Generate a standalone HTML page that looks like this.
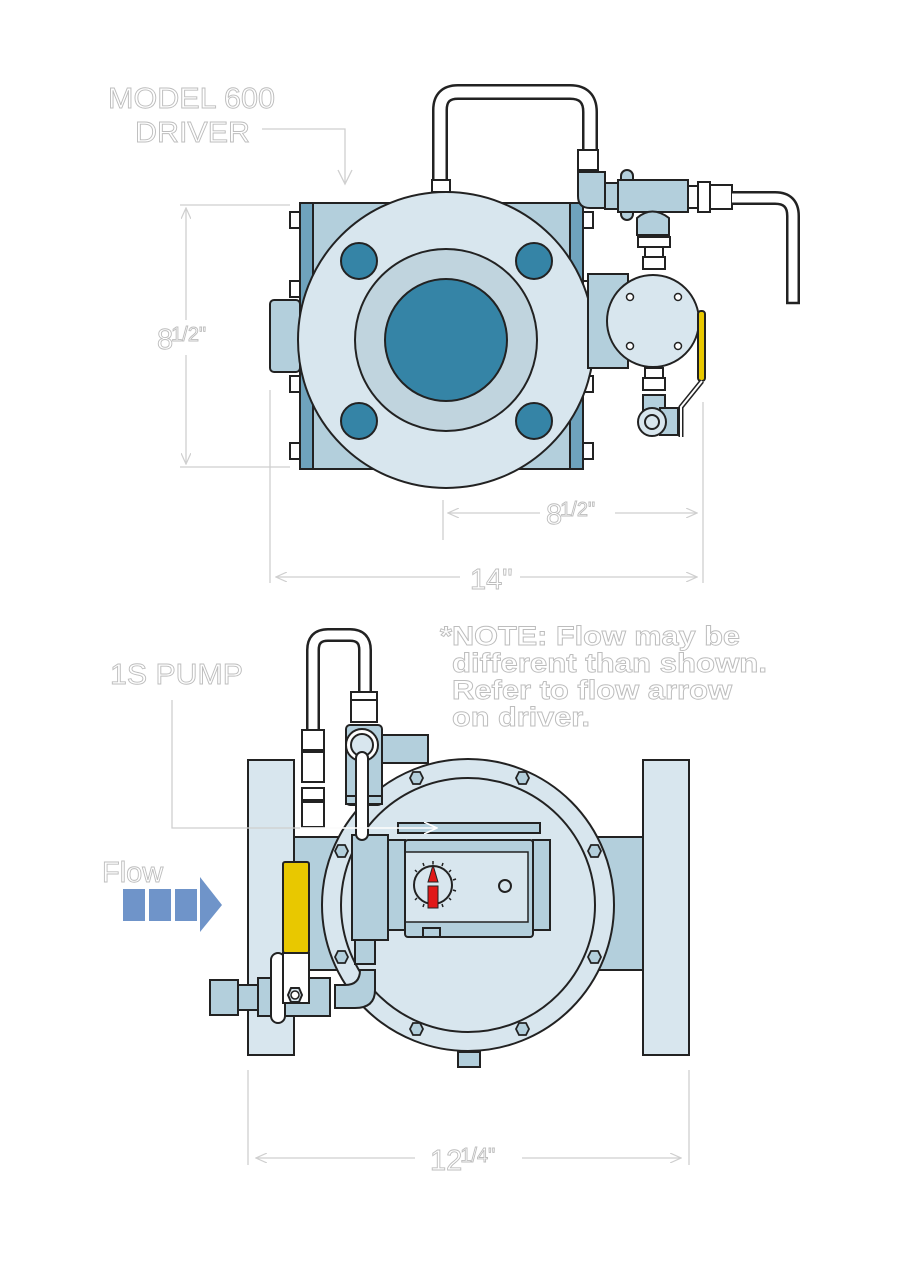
<!DOCTYPE html>
<html><head><meta charset="utf-8"><style>
html,body{margin:0;padding:0;background:#fff;}
svg{display:block}
.t{font-family:"Liberation Sans",sans-serif;fill:#fff;stroke:#bdbdbd;stroke-width:0.9;}
.d{stroke:#cfcfcf;stroke-width:1.3;fill:none}
.k{stroke:#222;stroke-width:2;}
</style></head><body>
<svg width="900" height="1264" viewBox="0 0 900 1264" xmlns="http://www.w3.org/2000/svg">
<defs>
<marker id="a" markerWidth="12" markerHeight="10" refX="11" refY="5" orient="auto" markerUnits="userSpaceOnUse"><path d="M0,0 L11,5 L0,10" fill="none" stroke="#cfcfcf" stroke-width="1.2"/></marker>
<marker id="w" markerWidth="14" markerHeight="12" refX="13" refY="6" orient="auto" markerUnits="userSpaceOnUse"><path d="M0,0 L13,6 L0,12" fill="none" stroke="#fff" stroke-width="1.6"/></marker>
</defs>

<!-- ===== TOP VIEW ===== -->
<g class="k">
<path d="M440,185 L440,110 Q440,92 458,92 L570,92 Q590,92 590,112 L590,152" fill="none" stroke="#222" stroke-width="16"/>
<path d="M440,185 L440,110 Q440,92 458,92 L570,92 Q590,92 590,112 L590,152" fill="none" stroke="#fff" stroke-width="11"/>
<rect x="432" y="180" width="18" height="12" fill="#fff"/>
<rect x="578" y="150" width="20" height="20" fill="#fff"/>
<rect x="300" y="203" width="283" height="266" fill="#b3cfdc"/>
<rect x="300" y="203" width="13" height="266" fill="#6fa3bd"/>
<rect x="570" y="203" width="13" height="266" fill="#6fa3bd"/>
<rect x="270" y="300" width="30" height="72" rx="4" fill="#b3cfdc"/>
<g fill="#fff">
<rect x="290" y="212" width="10" height="16"/><rect x="290" y="281" width="10" height="16"/><rect x="290" y="376" width="10" height="16"/><rect x="290" y="443" width="10" height="16"/>
<rect x="583" y="212" width="10" height="16"/><rect x="583" y="281" width="10" height="16"/><rect x="583" y="376" width="10" height="16"/><rect x="583" y="443" width="10" height="16"/>
</g>
<circle cx="446" cy="340" r="148" fill="#d8e6ee"/>
<circle cx="446" cy="340" r="91" fill="#c0d4de"/>
<circle cx="446" cy="340" r="61" fill="#3584a6"/>
<circle cx="359" cy="261" r="18" fill="#3584a6"/>
<circle cx="534" cy="261" r="18" fill="#3584a6"/>
<circle cx="359" cy="421" r="18" fill="#3584a6"/>
<circle cx="534" cy="421" r="18" fill="#3584a6"/>
<path d="M578,172 L605,172 L605,208 L590,208 Q578,208 578,196 Z" fill="#b3cfdc"/>
<rect x="605" y="183" width="13" height="26" fill="#b3cfdc"/>
<rect x="621" y="170" width="12" height="50" rx="6" fill="#b3cfdc"/>
<rect x="618" y="180" width="70" height="32" fill="#b3cfdc"/>
<rect x="688" y="186" width="10" height="22" fill="#fff"/>
<rect x="698" y="182" width="12" height="30" fill="#fff"/>
<rect x="710" y="185" width="22" height="24" fill="#fff"/>
<path d="M732,198 L775,198 Q793,198 793,216 L793,303" fill="none" stroke="#222" stroke-width="14"/>
<path d="M732,198 L775,198 Q793,198 793,216 L793,302" fill="none" stroke="#fff" stroke-width="9"/>
<line x1="786" y1="303" x2="800" y2="303" stroke-width="2.5"/>
<path d="M637,235 L637,218 Q652,205 669,218 L669,235 Z" fill="#b3cfdc"/>
<rect x="638" y="237" width="32" height="10" fill="#fff"/>
<rect x="645" y="247" width="18" height="10" fill="#fff"/>
<rect x="643" y="257" width="22" height="12" fill="#fff"/>
<rect x="588" y="274" width="40" height="94" fill="#b3cfdc"/>
<circle cx="653" cy="321" r="46" fill="#d8e6ee"/>
<g fill="#fff" stroke-width="1.5"><circle cx="630" cy="297" r="3.5"/><circle cx="678" cy="297" r="3.5"/><circle cx="630" cy="346" r="3.5"/><circle cx="678" cy="346" r="3.5"/></g>
<rect x="698" y="311" width="7" height="70" rx="3" fill="#e8c800"/>
<rect x="645" y="368" width="18" height="10" fill="#fff"/>
<rect x="643" y="378" width="22" height="12" fill="#fff"/>
<rect x="643" y="395" width="22" height="15" fill="#b3cfdc"/>
<rect x="660" y="408" width="18" height="27" fill="#b3cfdc"/>
<circle cx="652" cy="422" r="14" fill="#d8e6ee"/>
<circle cx="652" cy="422" r="7" fill="#d8e6ee"/>
<path d="M702,381 L681,407 L681,437" fill="none" stroke="#222" stroke-width="5"/>
<path d="M702,381 L681,407 L681,437" fill="none" stroke="#fff" stroke-width="2"/>
</g>

<g class="d">
<line x1="180" y1="205" x2="290" y2="205"/><line x1="180" y1="467" x2="290" y2="467"/>
<line x1="186" y1="320" x2="186" y2="208" marker-end="url(#a)"/>
<line x1="186" y1="355" x2="186" y2="464" marker-end="url(#a)"/>
<line x1="270" y1="390" x2="270" y2="583"/>
<line x1="443" y1="500" x2="443" y2="540"/>
<line x1="703" y1="402" x2="703" y2="583"/>
<line x1="540" y1="513" x2="448" y2="513" marker-end="url(#a)"/>
<line x1="615" y1="513" x2="697" y2="513" marker-end="url(#a)"/>
<line x1="460" y1="577" x2="276" y2="577" marker-end="url(#a)"/>
<line x1="520" y1="577" x2="697" y2="577" marker-end="url(#a)"/>
<polyline points="262,129 345,129 345,183" />
<path d="M338,170 L345,184 L352,170"/>
</g>
<text class="t" x="108" y="108" font-size="29" textLength="167" lengthAdjust="spacingAndGlyphs">MODEL 600</text>
<text class="t" x="135" y="142" font-size="29" textLength="115" lengthAdjust="spacingAndGlyphs">DRIVER</text>
<text class="t" x="157" y="349" font-size="29">8<tspan font-size="20" dy="-8" dx="-2">1/2"</tspan></text>
<text class="t" x="546" y="524" font-size="29">8<tspan font-size="20" dy="-8" dx="-2">1/2"</tspan></text>
<text class="t" x="470" y="589" font-size="29">14"</text>

<!-- ===== BOTTOM VIEW ===== -->
<g class="k">
<rect x="294" y="837" width="349" height="133" fill="#b3cfdc"/>
<rect x="248" y="760" width="46" height="295" fill="#d8e6ee"/>
<rect x="643" y="760" width="46" height="295" fill="#d8e6ee"/>
<rect x="380" y="735" width="48" height="28" fill="#b3cfdc"/>
<circle cx="468" cy="905" r="146" fill="#d8e6ee"/>
<circle cx="468" cy="905" r="127" fill="#d8e6ee"/>
<g fill="#b3cfdc" stroke-width="1.8">
<polygon points="410,778 413,772 420,772 423,778 420,784 413,784"/>
<polygon points="516,778 519,772 526,772 529,778 526,784 519,784"/>
<polygon points="335,851 338,845 345,845 348,851 345,857 338,857"/>
<polygon points="588,851 591,845 598,845 601,851 598,857 591,857"/>
<polygon points="335,957 338,951 345,951 348,957 345,963 338,963"/>
<polygon points="588,957 591,951 598,951 601,957 598,963 591,963"/>
<polygon points="410,1029 413,1023 420,1023 423,1029 420,1035 413,1035"/>
<polygon points="516,1029 519,1023 526,1023 529,1029 526,1035 519,1035"/>
</g>
<rect x="458" y="1052" width="22" height="15" fill="#b3cfdc"/>
<rect x="398" y="823" width="142" height="10" fill="#b3cfdc"/>
<rect x="405" y="840" width="128" height="97" rx="3" fill="#b3cfdc"/>
<rect x="405" y="852" width="123" height="70" fill="#d8e6ee" stroke-width="1.5"/>
<rect x="388" y="840" width="17" height="90" fill="#b3cfdc"/>
<rect x="533" y="840" width="17" height="90" fill="#b3cfdc"/>
<circle cx="433" cy="885" r="19" fill="#d8e6ee"/>
<path d="M433,865 L438,882 L428,882 Z" fill="#e01818" stroke-width="1"/>
<rect x="428" y="886" width="10" height="22" fill="#e01818" stroke-width="1"/>
<circle cx="505" cy="886" r="6" fill="#d8e6ee"/>
<rect x="423" y="928" width="17" height="9" fill="#b3cfdc"/>
<rect x="352" y="835" width="36" height="105" fill="#b3cfdc"/>
<path d="M313,732 L313,650 Q313,635 328,635 L350,635 Q365,635 365,650 L365,700" fill="none" stroke="#222" stroke-width="14"/>
<path d="M313,732 L313,650 Q313,635 328,635 L350,635 Q365,635 365,650 L365,700" fill="none" stroke="#fff" stroke-width="9"/>
<g fill="#fff">
<rect x="302" y="730" width="22" height="20"/><rect x="302" y="752" width="22" height="30"/><rect x="302" y="788" width="22" height="12"/><rect x="302" y="802" width="22" height="25"/>
<rect x="351" y="692" width="26" height="8"/><rect x="351" y="700" width="26" height="22"/>
</g>
<rect x="346" y="725" width="36" height="80" rx="4" fill="#b3cfdc"/>
<circle cx="362" cy="745" r="16" fill="#fff"/>
<circle cx="362" cy="745" r="11" fill="#d8e6ee"/>
<rect x="346" y="796" width="36" height="8" fill="#b3cfdc"/>
<rect x="356" y="752" width="12" height="88" rx="6" fill="#fff"/>
<rect x="355" y="940" width="20" height="24" fill="#b3cfdc"/>
<path d="M335,985 L345,985 Q360,985 360,970 L375,970 L375,990 Q375,1008 355,1008 L335,1008 Z" fill="#b3cfdc"/>
<rect x="210" y="980" width="28" height="35" fill="#b3cfdc"/>
<rect x="238" y="985" width="22" height="25" fill="#b3cfdc"/>
<rect x="258" y="978" width="72" height="38" fill="#b3cfdc"/>
<rect x="271" y="953" width="14" height="70" rx="7" fill="#fff"/>
<rect x="283" y="862" width="26" height="91" rx="2" fill="#e8c800"/>
<rect x="283" y="953" width="26" height="50" fill="#fff"/>
<polygon points="288,995 291,988 299,988 302,995 299,1002 291,1002" fill="#d8e6ee"/>
<circle cx="295" cy="995" r="4" fill="#fff" stroke-width="1.5"/>
</g>
<g stroke="#222" stroke-width="1.5">
<line x1="433" y1="861" x2="433" y2="864"/><line x1="443" y1="863" x2="442" y2="866"/><line x1="451" y1="870" x2="449" y2="872"/><line x1="456" y1="879" x2="453" y2="880"/><line x1="456" y1="891" x2="453" y2="890"/><line x1="451" y1="900" x2="449" y2="898"/><line x1="423" y1="863" x2="424" y2="866"/><line x1="415" y1="870" x2="417" y2="872"/><line x1="415" y1="900" x2="417" y2="898"/><line x1="443" y1="907" x2="442" y2="904"/><line x1="423" y1="907" x2="424" y2="904"/>
</g>
<g fill="#6f94c9">
<rect x="123" y="889" width="22" height="32"/><rect x="149" y="889" width="22" height="32"/><rect x="175" y="889" width="22" height="32"/>
<polygon points="200,877 222,905 200,932"/>
</g>
<polyline points="172,700 172,828 437,828" fill="none" stroke="#cfcfcf" stroke-width="1.3"/>
<line x1="300" y1="828" x2="437" y2="828" stroke="#fff" stroke-width="1.6" marker-end="url(#w)"/>
<text class="t" x="110" y="684" font-size="29" textLength="133" lengthAdjust="spacingAndGlyphs">1S PUMP</text>
<text class="t" x="102" y="882" font-size="29">Flow</text>
<g class="t" font-size="27" font-weight="bold">
<text x="440" y="645" textLength="300" lengthAdjust="spacingAndGlyphs">*NOTE: Flow may be</text>
<text x="452" y="672" textLength="315" lengthAdjust="spacingAndGlyphs">different than shown.</text>
<text x="452" y="699" textLength="280" lengthAdjust="spacingAndGlyphs">Refer to flow arrow</text>
<text x="452" y="726" textLength="138" lengthAdjust="spacingAndGlyphs">on driver.</text>
</g>
<g class="d">
<line x1="248" y1="1070" x2="248" y2="1165"/><line x1="689" y1="1070" x2="689" y2="1165"/>
<line x1="415" y1="1158" x2="256" y2="1158" marker-end="url(#a)"/>
<line x1="522" y1="1158" x2="681" y2="1158" marker-end="url(#a)"/>
</g>
<text class="t" x="430" y="1170" font-size="29">12<tspan font-size="20" dy="-8" dx="-2">1/4"</tspan></text>
</svg>
</body></html>
